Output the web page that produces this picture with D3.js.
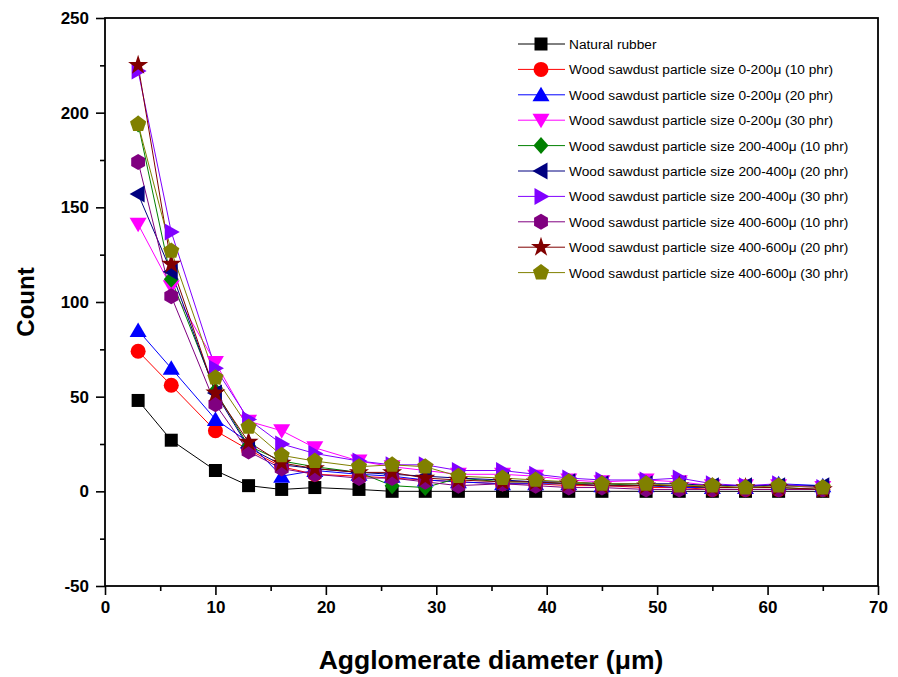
<!DOCTYPE html>
<html><head><meta charset="utf-8">
<script src="https://cdn.jsdelivr.net/npm/d3@7"></script>
<style>body{margin:0;background:#fff}svg{display:block}</style>
</head><body>
<svg id="c" width="898" height="677"></svg>
<script>
const xValues = [3,6,10,13,16,19,23,26,29,32,36,39,42,45,49,52,55,58,61,65];
const seriesNames = [
  "Natural rubber",
  "Wood sawdust particle size 0-200\u03bc (10 phr)",
  "Wood sawdust particle size 0-200\u03bc (20 phr)",
  "Wood sawdust particle size 0-200\u03bc (30 phr)",
  "Wood sawdust particle size 200-400\u03bc (10 phr)",
  "Wood sawdust particle size 200-400\u03bc (20 phr)",
  "Wood sawdust particle size 200-400\u03bc (30 phr)",
  "Wood sawdust particle size 400-600\u03bc (10 phr)",
  "Wood sawdust particle size 400-600\u03bc (20 phr)",
  "Wood sawdust particle size 400-600\u03bc (30 phr)"
];
const nr       = [48,27,11,3,1,2,1,0,0,0,0,0,0,0,0,0,0,0,0,0];
const s0_200_10 = [74,56,32,22,13,9,8,7,6,5,4,4,3,3,2,2,1,1,1,1];
const s0_200_20 = [85,65,38,26,8,11,9,8,6,5,4,4,4,3,3,2,2,2,4,3];
const s0_200_30 = [141,108,68,37,32,23,16,13,11,9,9,8,6,5,6,5,3,3,3,2];
const s200_400_10 = [194,112,53,24,16,13,10,3,2,7,5,5,4,4,3,3,2,2,2,1];
const s200_400_20 = [157,116,52,23,14,12,10,9,8,7,6,5,5,4,4,4,3,3,3,3];
const s200_400_30 = [222,137,65,38,25,20,16,14,14,11,11,9,7,6,6,7,4,3,4,2];
const s400_600_10 = [174,103,46,21,12,9,7,7,5,3,4,3,2,2,1,1,1,1,1,1];
const s400_600_20 = [225,120,52,26,15,12,10,10,7,6,5,5,4,3,3,3,2,2,2,1];
const s400_600_30 = [194,127,60,34,19,16,13,14,13,8,7,6,5,4,4,3,3,2,3,2];
const seriesValues = [nr,s0_200_10,s0_200_20,s0_200_30,s200_400_10,s200_400_20,s200_400_30,s400_600_10,s400_600_20,s400_600_30];
const colors = ["#000000","#ff0000","#0000ff","#ff00ff","#008000","#000080","#8000ff","#800080","#800000","#808000"];
const xTicks = [0,10,20,30,40,50,60,70];
const yTicks = [-50,0,50,100,150,200,250];

const svg = d3.select("#c");
const L=105, R=878, T=18, B=586;
const x = d3.scaleLinear().domain([0,70]).range([L,R]);
const y = d3.scaleLinear().domain([-50,250]).range([B,T]);
const FONT = "'Liberation Sans', Arial, sans-serif";

function shapePath(i){
  switch(i){
    case 0: return `M-6.5,-6.5h13v13h-13Z`;
    case 1: return d3.symbol(d3.symbolCircle, Math.PI*7.5*7.5)();
    case 2: return `M0,-8L8.5,6.5L-8.5,6.5Z`;
    case 3: return `M0,8L8.5,-6.5L-8.5,-6.5Z`;
    case 4: return `M0,-8.5L7.5,0L0,8.5L-7.5,0Z`;
    case 5: return `M-8.5,0L6.5,-8.5L6.5,8.5Z`;
    case 6: return `M8.5,0L-6.5,-8.5L-6.5,8.5Z`;
    case 7: {
      let p=[]; for(let k=0;k<6;k++){const a=Math.PI/6+k*Math.PI/3; p.push([8*Math.cos(a),8*Math.sin(a)]);}
      return "M"+p.map(q=>q.join(",")).join("L")+"Z"; }
    case 8: return d3.symbol(d3.symbolStar, 125)();
    case 9: {
      let p=[]; for(let k=0;k<5;k++){const a=-Math.PI/2+k*2*Math.PI/5; p.push([8.5*Math.cos(a),8.5*Math.sin(a)]);}
      return "M"+p.map(q=>q.join(",")).join("L")+"Z"; }
  }
}

const gx = svg.append("g").attr("transform",`translate(0,${B})`)
  .call(d3.axisBottom(x).tickValues(xTicks).tickSize(9).tickPadding(6).tickFormat(d=>String(d)));
const gxm = svg.append("g").attr("transform",`translate(0,${B})`)
  .call(d3.axisBottom(x).tickValues(d3.range(5,70,10)).tickSize(5).tickFormat(""));
const gy = svg.append("g").attr("transform",`translate(${L},0)`)
  .call(d3.axisLeft(y).tickValues(yTicks).tickSize(9).tickPadding(7).tickFormat(d=>String(d)));
const gym = svg.append("g").attr("transform",`translate(${L},0)`)
  .call(d3.axisLeft(y).tickValues(d3.range(-25,250,50)).tickSize(5).tickFormat(""));
[gx,gxm,gy,gym].forEach(g=>{
  g.selectAll(".domain").remove();
  g.selectAll("line").attr("stroke","#000").attr("stroke-width",1.6);
  g.selectAll("text").attr("fill","#000").style("font-family",FONT)
   .style("font-weight","bold").style("font-size","17px");
});
svg.append("rect").attr("x",L).attr("y",T).attr("width",R-L).attr("height",B-T)
  .attr("fill","none").attr("stroke","#000").attr("stroke-width",1.8);

svg.append("text").attr("x",491).attr("y",669).attr("text-anchor","middle")
  .style("font-family",FONT).style("font-weight","bold").style("font-size","26.5px")
  .text("Agglomerate diameter (\u03bcm)");
svg.append("text").attr("transform",`translate(34,${(T+B)/2}) rotate(-90)`).attr("text-anchor","middle")
  .style("font-family",FONT).style("font-weight","bold").style("font-size","24px")
  .text("Count");

const line = d3.line().x((d,i)=>x(xValues[i])).y(d=>y(d));
const plot = svg.append("g");
seriesValues.forEach((vals,si)=>{
  plot.append("path").datum(vals).attr("d",line).attr("fill","none")
    .attr("stroke",colors[si]).attr("stroke-width",1);
});
seriesValues.forEach((vals,si)=>{
  plot.selectAll(null).data(vals).enter().append("path")
    .attr("transform",(d,i)=>`translate(${x(xValues[i])},${y(d)})`)
    .attr("d",shapePath(si)).attr("fill",colors[si]);
});

const lg = svg.append("g");
seriesNames.forEach((n,i)=>{
  const yy = 44 + i*25.4;
  lg.append("line").attr("x1",518).attr("x2",565).attr("y1",yy).attr("y2",yy)
    .attr("stroke",colors[i]).attr("stroke-width",1);
  lg.append("path").attr("transform",`translate(541,${yy})`).attr("d",shapePath(i)).attr("fill",colors[i]);
  lg.append("text").attr("x",569).attr("y",yy+5)
    .style("font-family",FONT).style("font-size","13.7px").attr("fill","#000")
    .text(n);
});
</script>
</body></html>
